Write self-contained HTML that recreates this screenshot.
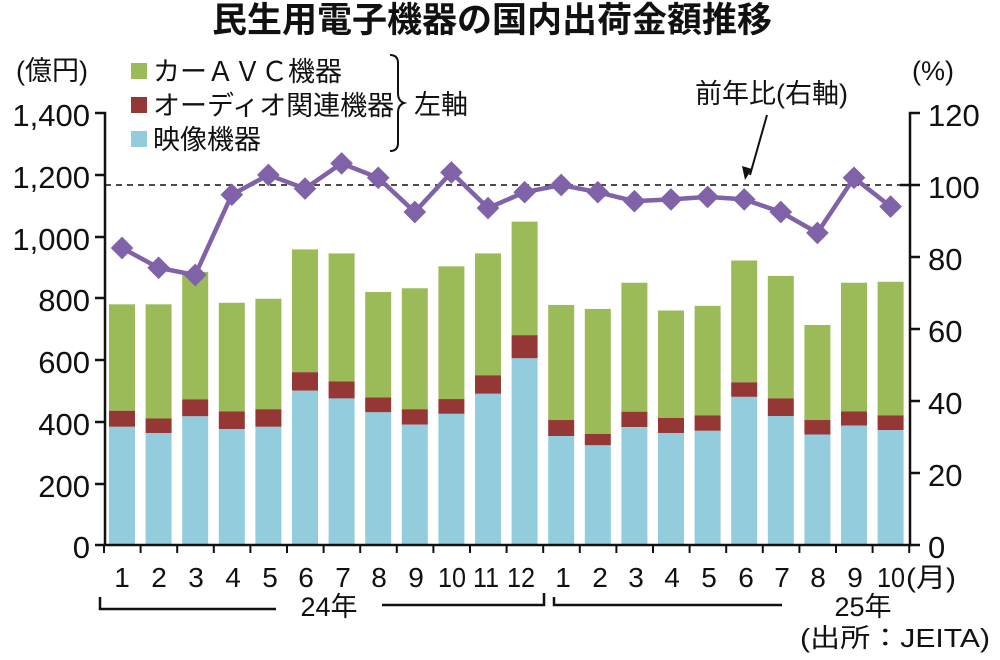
<!DOCTYPE html>
<html><head><meta charset="utf-8"><style>
body{margin:0;background:#fff}
svg text{font-family:"Liberation Sans","Noto Sans CJK JP",sans-serif;fill:#111}
</style></head><body>
<svg id="s" width="1000" height="655" viewBox="0 0 1000 655" xmlns="http://www.w3.org/2000/svg">
<text x="492" y="32" font-size="35" font-weight="bold" text-anchor="middle" style="font-family:'Noto Sans CJK JP',sans-serif">民生用電子機器の国内出荷金額推移</text>
<text x="16" y="80" font-size="27">(億円)</text>
<text x="912" y="80" font-size="27">(%)</text>
<rect x="131" y="63" width="16" height="16" fill="#9bbb59"/>
<text x="153" y="81" font-size="27">カーＡＶＣ機器</text>
<rect x="131" y="97" width="16" height="16" fill="#953735"/>
<text x="153" y="115" font-size="27">オーディオ関連機器</text>
<rect x="131" y="131" width="16" height="16" fill="#93cddd"/>
<text x="153" y="149" font-size="27">映像機器</text>
<path d="M390,55 q8,0 8,8 v30 q0,8 6,10 q-6,2 -6,10 v30 q0,8 -8,8" fill="none" stroke="#111" stroke-width="2"/>
<text x="414" y="114" font-size="27">左軸</text>
<text x="695" y="103" font-size="27">前年比(右軸)</text>
<line x1="767" y1="115" x2="750" y2="175" stroke="#111" stroke-width="2"/>
<path d="M745,180 l-3,-14 l10,3 z" fill="#111"/>
<g id="bars"></g>
<line x1="105" y1="185" x2="910" y2="185" stroke="#111" stroke-width="1.5" stroke-dasharray="6,5"/>
<g stroke="#111" stroke-width="2.5" fill="none">
<path d="M95,113 H105 V545 H910 V113 H920"/>
<path d="M95,175 H105 M95,237 H105 M95,298 H105 M95,360 H105 M95,422 H105 M95,484 H105 M95,545 H105"/>
<path d="M900,185 H920 M910,257 H920 M910,329 H920 M910,401 H920 M910,473 H920 M910,545 H920"/>
</g>
<g id="ticks" stroke="#111" stroke-width="2"></g>
<g id="line"></g>
<g font-size="31" text-anchor="end">
<text x="90" y="126">1,400</text><text x="90" y="188">1,200</text><text x="90" y="250">1,000</text>
<text x="90" y="311">800</text><text x="90" y="373">600</text><text x="90" y="435">400</text>
<text x="90" y="497">200</text><text x="90" y="558">0</text>
</g>
<g font-size="31">
<text x="928" y="126">120</text><text x="928" y="198">100</text><text x="928" y="270">80</text>
<text x="928" y="342">60</text><text x="928" y="414">40</text><text x="928" y="486">20</text>
<text x="928" y="558">0</text>
</g>
<g font-size="28" text-anchor="middle">
<text x="122" y="587">1</text><text x="159" y="587">2</text><text x="196" y="587">3</text><text x="233" y="587">4</text><text x="270" y="587">5</text><text x="306" y="587">6</text><text x="343" y="587">7</text><text x="379" y="587">8</text><text x="416" y="587">9</text><text x="452" y="587" textLength="28" lengthAdjust="spacingAndGlyphs">10</text><text x="486" y="587" textLength="26" lengthAdjust="spacingAndGlyphs">11</text><text x="521" y="587" textLength="28" lengthAdjust="spacingAndGlyphs">12</text>
<text x="563" y="587">1</text><text x="600" y="587">2</text><text x="636" y="587">3</text><text x="672" y="587">4</text><text x="709" y="587">5</text><text x="746" y="587">6</text><text x="782" y="587">7</text><text x="818" y="587">8</text><text x="855" y="587">9</text><text x="891" y="587" textLength="28" lengthAdjust="spacingAndGlyphs">10</text>
</g>
<text x="906" y="587" font-size="27" textLength="50" lengthAdjust="spacingAndGlyphs">(月)</text>
<path d="M100,597 V609 H276 M382,605 H544 V593 M554,597 V605 H782" fill="none" stroke="#111" stroke-width="2.5"/>
<text x="329" y="616" font-size="27" text-anchor="middle">24年</text>
<text x="863" y="616" font-size="27" text-anchor="middle">25年</text>
<text x="990" y="647" font-size="26" text-anchor="end" textLength="190" lengthAdjust="spacingAndGlyphs">(出所：JEITA)</text>
</svg>
<script>
var tot=[780,780,885,785,798,958,945,820,832,903,945,1048,778,765,850,760,775,922,872,713,850,853];
var red=[435,410,472,433,440,560,530,478,440,473,550,680,405,360,432,412,420,527,475,405,433,420];
var blu=[383,363,417,376,383,500,475,430,390,425,490,605,353,323,382,363,370,480,418,358,387,372];
var pct=[82.5,77,75,97.3,102.8,99,106,102,92.5,103.5,93.6,98,100,98,95.5,96,96.7,96,92.5,86.7,102,94];
var ns="http://www.w3.org/2000/svg",k=432/1400;
function el(t,a,p){var e=document.createElementNS(ns,t);for(var i in a)e.setAttribute(i,a[i]);document.getElementById(p).appendChild(e);}
var pts=[];
function y(v){return 545-v*k;}
for(var i=0;i<22;i++){var c=122+36.6*i,x=c-13;
el("rect",{x:x,y:y(tot[i]),width:26,height:y(red[i])-y(tot[i]),fill:"#9bbb59"},"bars");
el("rect",{x:x,y:y(red[i]),width:26,height:y(blu[i])-y(red[i]),fill:"#953735"},"bars");
el("rect",{x:x,y:y(blu[i]),width:26,height:545-y(blu[i]),fill:"#93cddd"},"bars");
pts.push(c+","+(545-pct[i]*3.6));}
for(var i=0;i<=22;i++){var tx=104+36.6*i;el("line",{x1:tx,y1:545,x2:tx,y2:553},"ticks");}
el("polyline",{points:pts.join(" "),fill:"none",stroke:"#7f62a8","stroke-width":4.5},"line");
pts.forEach(function(p){var a=p.split(",");el("rect",{x:+a[0]-8,y:+a[1]-8,width:16,height:16,fill:"#7f62a8",transform:"rotate(45 "+a[0]+" "+a[1]+")"},"line");});
</script>
</body></html>
